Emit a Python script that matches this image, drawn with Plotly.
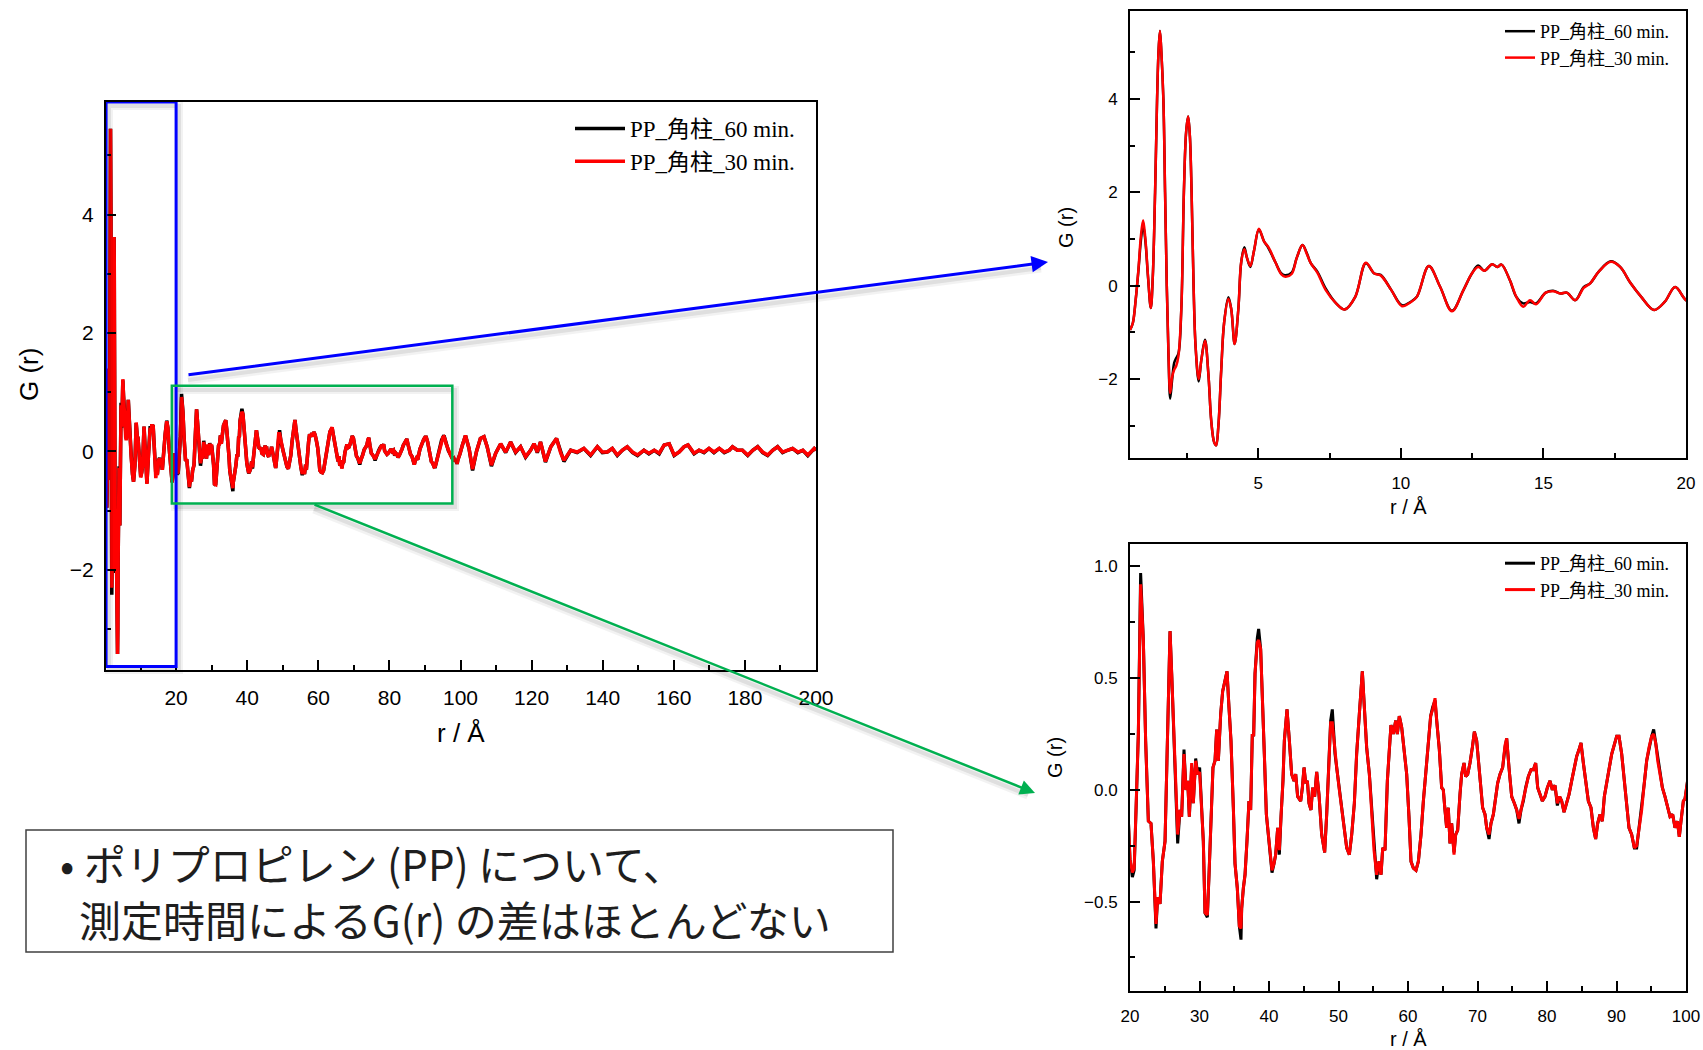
import plotly.graph_objects as go

W, H = 1703, 1050

# ---------------- data ----------------
# r = 0.5 .. 20 A
r_short = [0.50,0.60,0.70,0.80,0.88,0.96,1.04,1.13,1.23,1.30,
           1.38,1.45,1.50,1.55,1.60,1.67,1.73,1.79,1.85,1.91,
           1.98,2.05,2.12,2.20,2.30,2.39,2.47,2.54,2.60,2.66,
           2.73,2.80,2.91,3.00,3.13,3.25,3.35,3.45,3.52,3.60,
           3.70,3.80,3.95,4.05,4.17,4.30,4.40,4.51,4.60,4.72,
           4.85,5.02,5.20,5.36,5.60,5.81,5.95,6.17,6.35,6.55,
           6.70,6.84,7.07,7.36,7.73,8.03,8.40,8.77,9.07,9.29,
           9.66,10.04,10.33,10.56,10.98,11.38,11.79,12.19,12.49,12.71,
           12.93,13.20,13.38,13.53,13.82,14.05,14.29,14.53,14.74,15.08,
           15.34,15.60,15.82,16.12,16.41,16.64,16.94,17.36,17.69,18.06,
           18.43,18.88,19.25,19.62,20.00]
g60_short = [-0.95,-0.80,-0.30,0.35,0.95,1.30,0.95,0.20,-0.48,0.20,
             2.00,4.00,5.00,5.45,5.00,4.00,2.00,0.00,-1.50,-2.42,
             -2.00,-1.65,-1.55,-1.45,-0.50,2.00,3.30,3.62,3.20,2.00,
             0.00,-1.30,-2.05,-1.60,-1.16,-1.90,-2.90,-3.35,-3.42,-3.00,
             -1.80,-0.80,-0.25,-0.50,-1.25,-0.50,0.50,0.82,0.60,0.40,
             0.75,1.20,0.95,0.80,0.50,0.26,0.22,0.28,0.60,0.87,
             0.70,0.48,0.30,-0.06,-0.38,-0.51,-0.24,0.48,0.26,0.23,
             -0.09,-0.42,-0.35,-0.24,0.42,-0.03,-0.54,-0.10,0.26,0.43,
             0.32,0.46,0.40,0.45,0.12,-0.24,-0.38,-0.35,-0.38,-0.15,
             -0.11,-0.17,-0.15,-0.31,-0.03,0.05,0.30,0.52,0.40,0.05,
             -0.24,-0.52,-0.35,-0.03,-0.31]
g30_short = [-0.95,-0.80,-0.30,0.38,1.05,1.40,1.00,0.22,-0.48,0.20,
             2.00,4.00,5.00,5.45,5.00,4.00,2.00,0.00,-1.45,-2.30,
             -1.95,-1.80,-1.72,-1.50,-0.50,2.00,3.30,3.62,3.20,2.00,
             0.00,-1.30,-2.00,-1.60,-1.18,-1.90,-2.90,-3.35,-3.42,-3.00,
             -1.80,-0.80,-0.28,-0.50,-1.25,-0.50,0.50,0.78,0.60,0.42,
             0.75,1.22,0.95,0.82,0.50,0.24,0.19,0.25,0.60,0.87,
             0.68,0.48,0.28,-0.09,-0.38,-0.51,-0.24,0.49,0.26,0.22,
             -0.09,-0.44,-0.36,-0.24,0.42,-0.03,-0.55,-0.10,0.26,0.40,
             0.32,0.46,0.40,0.45,0.12,-0.24,-0.45,-0.31,-0.40,-0.15,
             -0.12,-0.17,-0.15,-0.31,-0.05,0.05,0.30,0.51,0.40,0.05,
             -0.24,-0.52,-0.35,-0.03,-0.31]

# r = 20 .. 100 A
r_mid = [20.34,20.60,20.96,21.20,21.53,21.92,22.25,22.64,23.02,23.36,
         23.74,23.98,24.32,24.65,25.04,25.37,25.76,26.00,26.38,26.57,
         26.86,27.19,27.43,27.77,28.06,28.30,28.54,28.87,29.11,29.45,
         29.74,30.02,30.31,30.55,30.79,31.13,31.37,31.65,31.94,32.23,
         32.47,32.71,33.05,33.33,33.57,33.96,34.24,34.53,34.87,35.11,
         35.44,35.73,35.97,36.07,36.31,36.55,36.83,37.12,37.36,37.60,
         37.79,37.99,38.32,38.51,38.80,39.04,39.33,39.62,39.90,40.19,
         40.43,40.72,40.96,41.25,41.49,41.73,42.01,42.21,42.59,42.93,
         43.26,43.60,43.84,44.12,44.56,44.80,45.04,45.28,45.52,45.76,
         46.04,46.28,46.57,46.86,47.19,47.58,48.01,48.30,48.54,48.87,
         49.11,49.50,49.74,50.12,50.46,50.84,51.18,51.56,51.90,52.28,
         52.61,53.00,53.43,53.72,54.05,54.44,54.77,55.11,55.49,55.83,
         56.12,56.36,56.69,57.03,57.27,57.55,57.89,58.23,58.47,58.75,
         59.09,59.43,59.81,60.14,60.43,60.77,61.15,61.49,61.87,62.21,
         62.54,62.93,63.26,63.55,63.89,64.13,64.51,64.84,65.08,65.32,
         65.56,65.80,66.04,66.28,66.62,66.86,67.15,67.48,67.72,68.06,
         68.30,68.59,68.92,69.26,69.55,69.88,70.22,70.50,70.74,71.08,
         71.32,71.66,71.94,72.28,72.52,72.90,73.24,73.62,73.96,74.20,
         74.53,74.92,75.30,75.64,75.97,76.26,76.60,76.93,77.32,77.70,
         78.04,78.37,78.66,79.00,79.33,79.71,80.05,80.43,80.77,81.15,
         81.49,81.82,82.11,82.45,82.83,83.17,83.55,83.89,84.27,84.61,
         84.89,85.23,85.57,85.95,86.33,86.67,87.00,87.29,87.63,87.96,
         88.25,88.59,88.97,89.31,89.64,90.03,90.36,90.75,91.13,91.46,
         91.80,92.18,92.57,92.90,93.24,93.62,94.00,94.34,94.68,95.06,
         95.35,95.64,95.93,96.26,96.60,96.98,97.36,97.70,98.08,98.42,
         98.76,99.04,99.28,99.62,99.86]
g60_mid = [-0.39,-0.36,0.00,0.25,0.97,0.67,0.22,-0.14,-0.15,-0.32,
           -0.62,-0.48,-0.51,-0.32,-0.23,0.22,0.71,0.52,0.22,0.07,
           -0.24,-0.09,-0.12,0.18,0.00,0.04,-0.12,0.10,-0.06,0.14,
           0.07,0.10,-0.08,-0.23,-0.55,-0.57,-0.38,-0.15,0.10,0.13,
           0.27,0.13,0.34,0.44,0.47,0.53,0.37,0.22,-0.08,-0.33,
           -0.44,-0.61,-0.67,-0.53,-0.44,-0.38,-0.23,-0.05,-0.09,0.25,
           0.24,0.52,0.68,0.72,0.63,0.44,0.16,-0.11,-0.20,-0.30,
           -0.37,-0.33,-0.29,-0.17,-0.29,-0.12,0.04,0.22,0.36,0.22,
           0.07,0.04,0.07,-0.03,-0.05,0.01,0.10,0.03,0.04,-0.06,
           -0.09,0.01,-0.03,0.08,-0.02,-0.20,-0.28,-0.11,0.07,0.31,
           0.36,0.16,0.10,0.00,-0.08,-0.18,-0.26,-0.29,-0.20,-0.06,
           0.16,0.34,0.53,0.37,0.19,0.07,-0.08,-0.27,-0.40,-0.32,
           -0.38,-0.26,-0.27,0.04,0.16,0.29,0.25,0.31,0.25,0.33,
           0.28,0.19,0.07,-0.12,-0.32,-0.35,-0.36,-0.32,-0.20,-0.05,
           0.06,0.21,0.33,0.37,0.40,0.31,0.18,0.01,0.00,-0.09,
           -0.17,-0.08,-0.24,-0.15,-0.28,-0.20,-0.18,-0.02,0.07,0.12,
           0.06,0.07,0.12,0.19,0.26,0.22,0.10,0.03,-0.08,-0.11,
           -0.17,-0.22,-0.15,-0.11,-0.05,0.03,0.07,0.10,0.19,0.23,
           0.10,-0.03,-0.06,-0.09,-0.15,-0.09,-0.05,0.01,0.06,0.09,
           0.09,0.12,0.01,-0.02,-0.05,-0.03,0.01,0.04,0.00,0.02,
           -0.07,-0.03,-0.05,-0.10,-0.06,-0.02,0.04,0.10,0.15,0.18,
           0.21,0.12,0.04,-0.05,-0.08,-0.17,-0.22,-0.15,-0.11,-0.14,
           -0.03,0.04,0.10,0.16,0.20,0.24,0.24,0.16,0.04,-0.08,
           -0.17,-0.20,-0.26,-0.26,-0.17,-0.09,0.03,0.13,0.19,0.24,
           0.27,0.21,0.13,0.07,0.01,-0.03,-0.08,-0.12,-0.11,-0.17,
           -0.14,-0.21,-0.14,-0.05,-0.04]
g30_mid = [-0.37,-0.35,0.00,0.25,0.92,0.67,0.22,-0.14,-0.15,-0.32,
           -0.60,-0.48,-0.51,-0.32,-0.23,0.22,0.71,0.52,0.22,0.07,
           -0.20,-0.09,-0.12,0.16,0.00,0.04,-0.12,0.12,-0.06,0.13,
           0.07,0.08,-0.08,-0.23,-0.55,-0.56,-0.38,-0.15,0.10,0.13,
           0.27,0.13,0.34,0.44,0.47,0.53,0.37,0.22,-0.08,-0.33,
           -0.44,-0.61,-0.62,-0.53,-0.44,-0.38,-0.23,-0.05,-0.09,0.25,
           0.24,0.52,0.66,0.67,0.63,0.44,0.16,-0.11,-0.20,-0.30,
           -0.36,-0.33,-0.29,-0.17,-0.27,-0.12,0.04,0.22,0.36,0.22,
           0.07,0.04,0.07,-0.03,-0.05,0.01,0.10,0.03,0.04,-0.06,
           -0.09,0.01,-0.03,0.08,-0.02,-0.20,-0.28,-0.11,0.07,0.30,
           0.30,0.16,0.10,0.00,-0.08,-0.18,-0.26,-0.29,-0.20,-0.06,
           0.16,0.34,0.53,0.37,0.19,0.07,-0.08,-0.27,-0.38,-0.32,
           -0.38,-0.26,-0.27,0.04,0.16,0.29,0.25,0.31,0.25,0.33,
           0.28,0.19,0.07,-0.12,-0.32,-0.35,-0.36,-0.32,-0.20,-0.05,
           0.06,0.21,0.33,0.36,0.41,0.31,0.18,0.01,0.00,-0.09,
           -0.17,-0.08,-0.24,-0.15,-0.29,-0.20,-0.18,-0.02,0.07,0.12,
           0.06,0.07,0.12,0.19,0.26,0.22,0.10,0.03,-0.08,-0.11,
           -0.17,-0.20,-0.15,-0.11,-0.06,0.03,0.07,0.10,0.20,0.23,
           0.10,-0.03,-0.06,-0.09,-0.13,-0.09,-0.05,0.01,0.06,0.09,
           0.09,0.12,0.01,-0.02,-0.05,-0.03,0.01,0.04,0.00,0.02,
           -0.06,-0.03,-0.05,-0.10,-0.06,-0.02,0.04,0.10,0.15,0.18,
           0.21,0.12,0.04,-0.05,-0.08,-0.17,-0.22,-0.15,-0.11,-0.14,
           -0.03,0.04,0.10,0.16,0.20,0.24,0.24,0.16,0.04,-0.08,
           -0.17,-0.20,-0.26,-0.25,-0.17,-0.09,0.03,0.13,0.19,0.24,
           0.25,0.21,0.13,0.07,0.01,-0.03,-0.08,-0.12,-0.11,-0.17,
           -0.14,-0.21,-0.14,-0.05,-0.04]

# r = 100 .. 200 A
r_long = [100.5,101.4,102.4,103.4,104.5,105.6,106.6,107.5,108.7,109.9,
          111.3,112.7,114.1,115.5,116.9,118.3,119.7,120.7,121.6,122.5,
          123.9,125.4,127.0,128.2,129.1,131.0,132.8,134.7,136.6,138.5,
          139.9,141.3,142.7,144.1,145.5,146.9,148.4,149.8,151.6,153.0,
          154.5,155.9,157.3,158.7,160.1,161.5,162.9,164.0,165.7,167.1,
          168.5,169.9,171.3,172.8,174.2,175.6,176.5,177.9,179.3,180.8,
          182.2,183.6,185.0,186.4,187.8,189.2,190.6,192.0,193.4,194.9,
          196.3,197.7,198.6,199.5,200.0]
g60_long = [0.10,0.27,0.05,-0.32,0.00,0.22,0.25,0.08,-0.25,-0.03,
            0.13,-0.02,0.16,-0.02,0.08,-0.10,0.02,0.13,-0.02,0.16,
            -0.18,0.08,0.22,-0.03,-0.17,0.02,-0.02,0.05,-0.07,0.08,
            -0.02,-0.01,0.05,-0.07,0.02,0.08,-0.02,-0.07,0.02,-0.04,
            0.02,-0.04,0.11,0.13,-0.07,-0.01,0.08,0.11,-0.04,0.02,
            -0.02,0.05,-0.02,0.05,-0.02,0.02,0.08,0.02,0.02,-0.07,
            0.02,0.08,-0.02,-0.07,0.02,0.08,-0.02,0.02,0.05,-0.02,
            0.02,-0.07,-0.02,0.05,0.02]
g30_long = [0.10,0.27,0.05,-0.30,0.00,0.22,0.25,0.08,-0.23,-0.03,
            0.13,-0.01,0.16,-0.01,0.08,-0.09,0.02,0.13,-0.01,0.16,
            -0.17,0.08,0.22,-0.03,-0.15,0.02,-0.01,0.05,-0.06,0.08,
            -0.01,-0.01,0.05,-0.06,0.02,0.08,-0.01,-0.06,0.02,-0.03,
            0.02,-0.03,0.11,0.13,-0.06,-0.01,0.08,0.11,-0.03,0.02,
            -0.01,0.05,-0.01,0.05,-0.01,0.02,0.08,0.02,0.02,-0.06,
            0.02,0.08,-0.01,-0.06,0.02,0.08,-0.01,0.02,0.05,-0.01,
            0.02,-0.06,-0.01,0.05,0.02]

series_names = ["PP_角柱_60 min.", "PP_角柱_30 min."]
series_colors = ["#000000", "#FF0000"]
note_lines = ["• ポリプロピレン (PP) について、", "測定時間によるG(r) の差はほとんどない"]

r_all = r_short + r_mid + r_long
g60_all = g60_short + g60_mid + g60_long
g30_all = g30_short + g30_mid + g30_long

# ---------------- helpers ----------------
def px(x):
    return x / W

def py(y):
    return 1 - y / H

SANS = "Liberation Sans, Arial, sans-serif"
SERIF = "Liberation Serif, Noto Sans CJK JP, serif"
JP = "Noto Sans CJK JP, sans-serif"

fig = go.Figure()
panels = [("x", "y", "legend", 3.5, "linear"),
          ("x2", "y2", "legend2", 2.5, "spline"),
          ("x3", "y3", "legend3", 3.0, "linear")]
for xa, ya, lg, w, shp in panels:
    for name, col, gv in zip(series_names, series_colors, [g60_all, g30_all]):
        fig.add_trace(go.Scatter(
            x=r_all, y=gv, mode="lines", name=name,
            line=dict(color=col, width=w, shape=shp),
            xaxis=xa, yaxis=ya, legend=lg, showlegend=True))


def axis(domain, rng, dtick, minor, size, standoff, anchor, fmt=None):
    d = dict(domain=domain, range=rng, anchor=anchor,
             showline=True, mirror=True, linecolor="black", linewidth=2,
             ticks="inside", ticklen=10, tickwidth=1.5, tickcolor="black",
             tick0=0, dtick=dtick,
             minor=dict(ticks="inside", ticklen=5, tickwidth=1.5,
                        tickcolor="black", tick0=0, dtick=minor),
             showgrid=False, zeroline=False,
             tickfont=dict(family=SANS, size=size, color="black"),
             ticklabelstandoff=standoff)
    if fmt:
        d["tickformat"] = fmt
    return d

layout = dict(
    width=W, height=H,
    margin=dict(l=0, r=0, t=0, b=0, pad=0, autoexpand=False),
    paper_bgcolor="white", plot_bgcolor="white",
    xaxis=axis([px(106), px(816)], [0.28, 200], 20, 10, 21, 8, "y"),
    yaxis=axis([py(670), py(102)], [-3.69, 5.9], 2, 1, 21, 6, "x"),
    xaxis2=axis([px(1130), px(1686)], [0.5, 20], 5, 2.5, 17, 9, "y2"),
    yaxis2=axis([py(458), py(11)], [-3.69, 5.88], 2, 1, 17, 7, "x2"),
    xaxis3=axis([px(1130), px(1686)], [20, 100], 10, 5, 17, 9, "y3"),
    yaxis3=axis([py(991), py(544)], [-0.9, 1.1], 0.5, 0.25, 17, 7, "x3", ".1f"),
    legend=dict(x=px(570), y=py(107), xanchor="left", yanchor="top",
                itemwidth=50,
                bgcolor="rgba(0,0,0,0)", font=dict(family=SERIF, size=23, color="black")),
    legend2=dict(x=px(1500), y=py(13), xanchor="left", yanchor="top",
                 bgcolor="rgba(0,0,0,0)", font=dict(family=SERIF, size=18, color="black")),
    legend3=dict(x=px(1500), y=py(545), xanchor="left", yanchor="top",
                 bgcolor="rgba(0,0,0,0)", font=dict(family=SERIF, size=18, color="black")),
)
fig.update_layout(**layout)

BLUE = "#0000FF"
GREEN = "#00B050"
SHADOW_WIDE = "rgba(0,0,0,0.05)"
SHADOW_CORE = "rgba(0,0,0,0.08)"


def shadow_line(x0, y0, x1, y1, dx=1, dy=5):
    out = []
    for col, w in ((SHADOW_WIDE, 9), (SHADOW_CORE, 4)):
        out.append(dict(type="line", xref="paper", yref="paper",
                        x0=px(x0 + dx), y0=py(y0 + dy), x1=px(x1 + dx), y1=py(y1 + dy),
                        line=dict(color=col, width=w), layer="above"))
    return out


def shadow_rect(x0, y0, x1, y1, dx=3, dy=4):
    out = []
    for col, w in ((SHADOW_WIDE, 8), (SHADOW_CORE, 4)):
        out.append(dict(type="rect", xref="paper", yref="paper",
                        x0=px(x0 + dx), y0=py(y1 + dy), x1=px(x1 + dx), y1=py(y0 + dy),
                        line=dict(color=col, width=w), layer="above"))
    return out

shapes = []
shapes += shadow_rect(106, 102, 176, 666)
shapes += shadow_rect(172, 386, 452, 503)
shapes += shadow_line(187, 375, 1040, 263)
shapes += shadow_line(313, 504, 1027, 790)
shapes += [
    # zoom frames on the main panel
    dict(type="rect", xref="x", yref="y", x0=0.3, x1=20, y0=-3.63, y1=5.9,
         line=dict(color=BLUE, width=3), layer="above"),
    dict(type="rect", xref="x", yref="y", x0=18.8, x1=97.7, y0=-0.88, y1=1.11,
         line=dict(color=GREEN, width=2.5), layer="above"),
    # text box
    dict(type="rect", xref="paper", yref="paper", x0=px(26), x1=px(893),
         y0=py(952), y1=py(830), line=dict(color="#404040", width=1.5),
         fillcolor="white"),
]
fig.update_layout(shapes=shapes)


def label(text, x, y, size, angle=0, family=SANS, color="black", xanchor="center"):
    return dict(text=text, x=px(x), y=py(y), xref="paper", yref="paper",
                xanchor=xanchor, yanchor="middle", showarrow=False, textangle=angle,
                font=dict(family=family, size=size, color=color))

ann = [
    label("G (r)", 29, 375, 26, -90),
    label("r / Å", 461, 733, 26),
    label("G (r)", 1066, 228, 20, -90),
    label("r / Å", 1408, 507, 20),
    label("G (r)", 1055, 758, 20, -90),
    label("r / Å", 1408, 1039, 20),
    label(note_lines[0], 58, 862, 42, family=JP, color="#1e1e1e", xanchor="left"),
    label(note_lines[1], 77, 918, 42, family=JP, color="#1e1e1e", xanchor="left"),
]
# arrows
ann.append(dict(text="", x=px(1048), y=py(262), xref="paper", yref="paper",
                ax=187 - 1048, ay=375 - 262, showarrow=True, arrowhead=2,
                arrowsize=1.1, arrowwidth=3, arrowcolor=BLUE, standoff=0))
ann.append(dict(text="", x=px(1035), y=py(793), xref="paper", yref="paper",
                ax=313 - 1035, ay=504 - 793, showarrow=True, arrowhead=2,
                arrowsize=1.2, arrowwidth=2.5, arrowcolor=GREEN, standoff=0))
fig.update_layout(annotations=ann)

fig.write_html("out.html")
